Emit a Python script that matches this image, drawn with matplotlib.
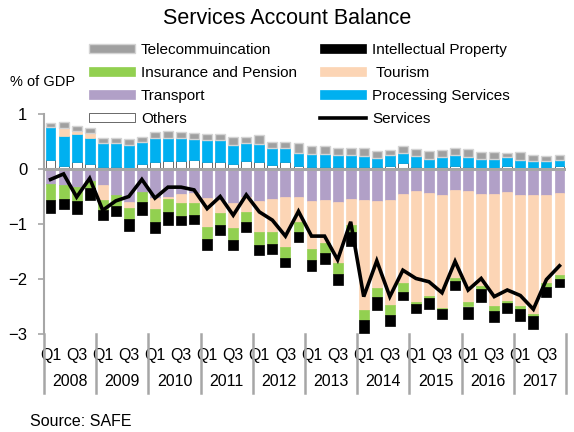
import numpy as np
import matplotlib
matplotlib.use("Agg")
import matplotlib.pyplot as plt
from matplotlib.patches import Patch
from matplotlib.lines import Line2D

plt.rcParams["font.family"] = ["Liberation Sans", "DejaVu Sans"]

years = [str(y) for y in range(2008, 2018)]
quarter_labels = ["Q1", "Q3"]

# % of GDP, quarterly 2008Q1 .. 2017Q4
others = [0.16, 0.06, 0.12, 0.10, 0.03, 0.04, 0.02, 0.09, 0.12, 0.15, 0.14, 0.16,
          0.13, 0.13, 0.10, 0.15, 0.12, 0.08, 0.12, 0.05, 0.03, 0.03, 0.03, 0.03,
          0.03, 0.03, 0.06, 0.11, 0.04, 0.02, 0.04, 0.05, 0.03, 0.02, 0.02, 0.05,
          0.02, 0.01, 0.02, 0.05]
processing = [0.60, 0.54, 0.52, 0.47, 0.44, 0.43, 0.42, 0.41, 0.44, 0.41, 0.42, 0.38,
              0.39, 0.39, 0.34, 0.32, 0.33, 0.30, 0.27, 0.25, 0.24, 0.24, 0.22, 0.23,
              0.21, 0.17, 0.19, 0.19, 0.20, 0.17, 0.17, 0.20, 0.18, 0.17, 0.17, 0.16,
              0.15, 0.14, 0.13, 0.12]
telecom = [0.08, 0.12, 0.10, 0.09, 0.09, 0.09, 0.10, 0.09, 0.11, 0.13, 0.12, 0.11,
           0.11, 0.11, 0.15, 0.11, 0.16, 0.12, 0.11, 0.17, 0.14, 0.15, 0.14, 0.12,
           0.14, 0.13, 0.10, 0.12, 0.13, 0.14, 0.13, 0.14, 0.15, 0.12, 0.12, 0.09,
           0.13, 0.10, 0.08, 0.09]
tourism = [0.00, 0.14, 0.05, 0.09, -0.27, 0.00, -0.11, 0.00, -0.20, -0.05, -0.16, -0.18,
           -0.53, -0.24, -0.46, -0.28, -0.56, -0.59, -0.91, -0.45, -0.88, -0.78, -1.11, -0.47,
           -2.00, -1.59, -1.91, -1.61, -2.01, -1.88, -2.05, -1.61, -2.01, -1.67, -2.03, -1.99,
           -2.02, -2.16, -1.61, -1.49]
transport = [-0.28, -0.29, -0.33, -0.22, -0.29, -0.48, -0.60, -0.41, -0.53, -0.50, -0.46, -0.44,
             -0.52, -0.56, -0.62, -0.50, -0.58, -0.55, -0.50, -0.51, -0.58, -0.57, -0.60, -0.55,
             -0.56, -0.58, -0.56, -0.46, -0.40, -0.43, -0.47, -0.38, -0.40, -0.46, -0.46, -0.41,
             -0.47, -0.47, -0.47, -0.44]
insurance = [-0.29, -0.26, -0.26, -0.13, -0.18, -0.20, -0.19, -0.19, -0.24, -0.24, -0.23, -0.22,
             -0.23, -0.22, -0.21, -0.18, -0.24, -0.22, -0.21, -0.18, -0.20, -0.18, -0.19, -0.12,
             -0.19, -0.15, -0.18, -0.16, -0.05, -0.04, -0.03, -0.04, -0.09, -0.06, -0.09, -0.04,
             -0.06, -0.04, -0.06, -0.07]
intellectual = [-0.23, -0.18, -0.22, -0.22, -0.18, -0.18, -0.22, -0.23, -0.19, -0.23, -0.17, -0.16,
                -0.19, -0.18, -0.18, -0.18, -0.19, -0.19, -0.17, -0.18, -0.19, -0.19, -0.20, -0.26,
                -0.23, -0.24, -0.20, -0.16, -0.16, -0.20, -0.18, -0.17, -0.22, -0.22, -0.21, -0.18,
                -0.21, -0.23, -0.18, -0.15]
services = [-0.19, -0.09, -0.51, -0.17, -0.75, -0.58, -0.50, -0.19, -0.53, -0.33, -0.33, -0.38,
            -0.72, -0.50, -0.84, -0.47, -0.78, -0.93, -1.22, -0.77, -1.22, -1.22, -1.65, -0.96,
            -2.32, -1.67, -2.32, -1.84, -1.99, -2.05, -2.25, -1.68, -2.20, -1.99, -2.32, -2.20,
            -2.30, -2.55, -2.01, -1.76]

GREY = "#a6a6a6"
c_tel = dict(facecolor="#a0a0a0", edgecolor="#d4d4d4", linewidth=1.0)
c_ip = dict(facecolor="black", edgecolor="black", linewidth=0.5)
c_ins = dict(facecolor="#92d050", edgecolor="#92d050", linewidth=0.5)
c_tour = dict(facecolor="#fcd5b5", edgecolor="#fcd5b5", linewidth=0.5)
c_trans = dict(facecolor="#b1a0c7", edgecolor="#b1a0c7", linewidth=0.5)
c_proc = dict(facecolor="#00b0f0", edgecolor="#00b0f0", linewidth=0.5)
c_oth = dict(facecolor="white", edgecolor="#505050", linewidth=0.6)

fig = plt.figure(figsize=(5.74, 4.32), dpi=100)
ax = fig.add_axes([44 / 574, 98 / 432, 522 / 574, 220 / 432])

n = len(services)
x = np.arange(n)
w = 0.76
pos = np.zeros(n)
neg = np.zeros(n)


def stack(vals, style):
    global pos, neg
    v = np.asarray(vals, dtype=float)
    bottom = np.where(v >= 0, pos, neg)
    ax.bar(x, v, w, bottom=bottom, zorder=2, **style)
    pos = pos + np.clip(v, 0, None)
    neg = neg + np.clip(v, None, 0)


stack(others, c_oth)
stack(processing, c_proc)
stack(transport, c_trans)
stack(tourism, c_tour)
stack(telecom, c_tel)
stack(insurance, c_ins)
stack(intellectual, c_ip)

ax.plot(x, services, color="black", lw=2.6, zorder=4, solid_joinstyle="miter")
ax.axhline(0, color=GREY, lw=2.2, zorder=3)

ax.set_xlim(-0.5, n - 0.5)
ax.set_ylim(-3, 1)
ax.set_yticks([-3, -2, -1, 0, 1])
ax.tick_params(axis="y", direction="out", length=4, width=1.2, color=GREY,
               labelsize=12, pad=8)
for side in ["top", "right", "bottom"]:
    ax.spines[side].set_visible(False)
ax.spines["left"].set_color(GREY)
ax.spines["left"].set_linewidth(1.5)

# quarter ticks, year labels and year separators
qpos = [4 * i + q for i in range(len(years)) for q in (0, 2)]
ax.set_xticks(qpos)
ax.set_xticklabels(quarter_labels * len(years))
ax.tick_params(axis="x", length=0, labelsize=11.5, pad=10)
trans = ax.get_xaxis_transform()
for i, yr in enumerate(years):
    ax.text(4 * i + 1.5, -0.218, yr, transform=trans, ha="center", va="center",
            fontsize=11.5)
for i in range(len(years) + 1):
    ax.plot([4 * i - 0.5] * 2, [0, -0.268], transform=trans, color=GREY, lw=1.8,
            clip_on=False)

fig.text(0.5, 1 - 18 / 432, "Services Account Balance", ha="center", va="center",
         fontsize=15.5)
fig.text(10 / 574, 1 - 82 / 432, "% of GDP", ha="left", va="center", fontsize=10.5)
fig.text(30 / 574, 1 - 422 / 432, "Source: SAFE", ha="left", va="center", fontsize=11.5)

left_items = [(Patch(**c_tel), "Telecommuincation"),
              (Patch(**c_ins), "Insurance and Pension"),
              (Patch(**c_trans), "Transport"),
              (Patch(**c_oth), "Others")]
right_items = [(Patch(**c_ip), "Intellectual Property"),
               (Patch(**c_tour), " Tourism"),
               (Patch(**c_proc), "Processing Services"),
               (Line2D([], [], color="black", lw=2.6), "Services")]

for items, x0 in [(left_items, 89), (right_items, 320)]:
    fig.legend([h for h, _ in items], [t for _, t in items], loc="upper left",
               bbox_to_anchor=(x0 / 574, 1 - 43 / 432), frameon=False, fontsize=11,
               handlelength=3.0, handleheight=0.55, handletextpad=0.4,
               labelspacing=0.58, borderpad=0, borderaxespad=0)

fig.savefig("out.png", dpi=100)
